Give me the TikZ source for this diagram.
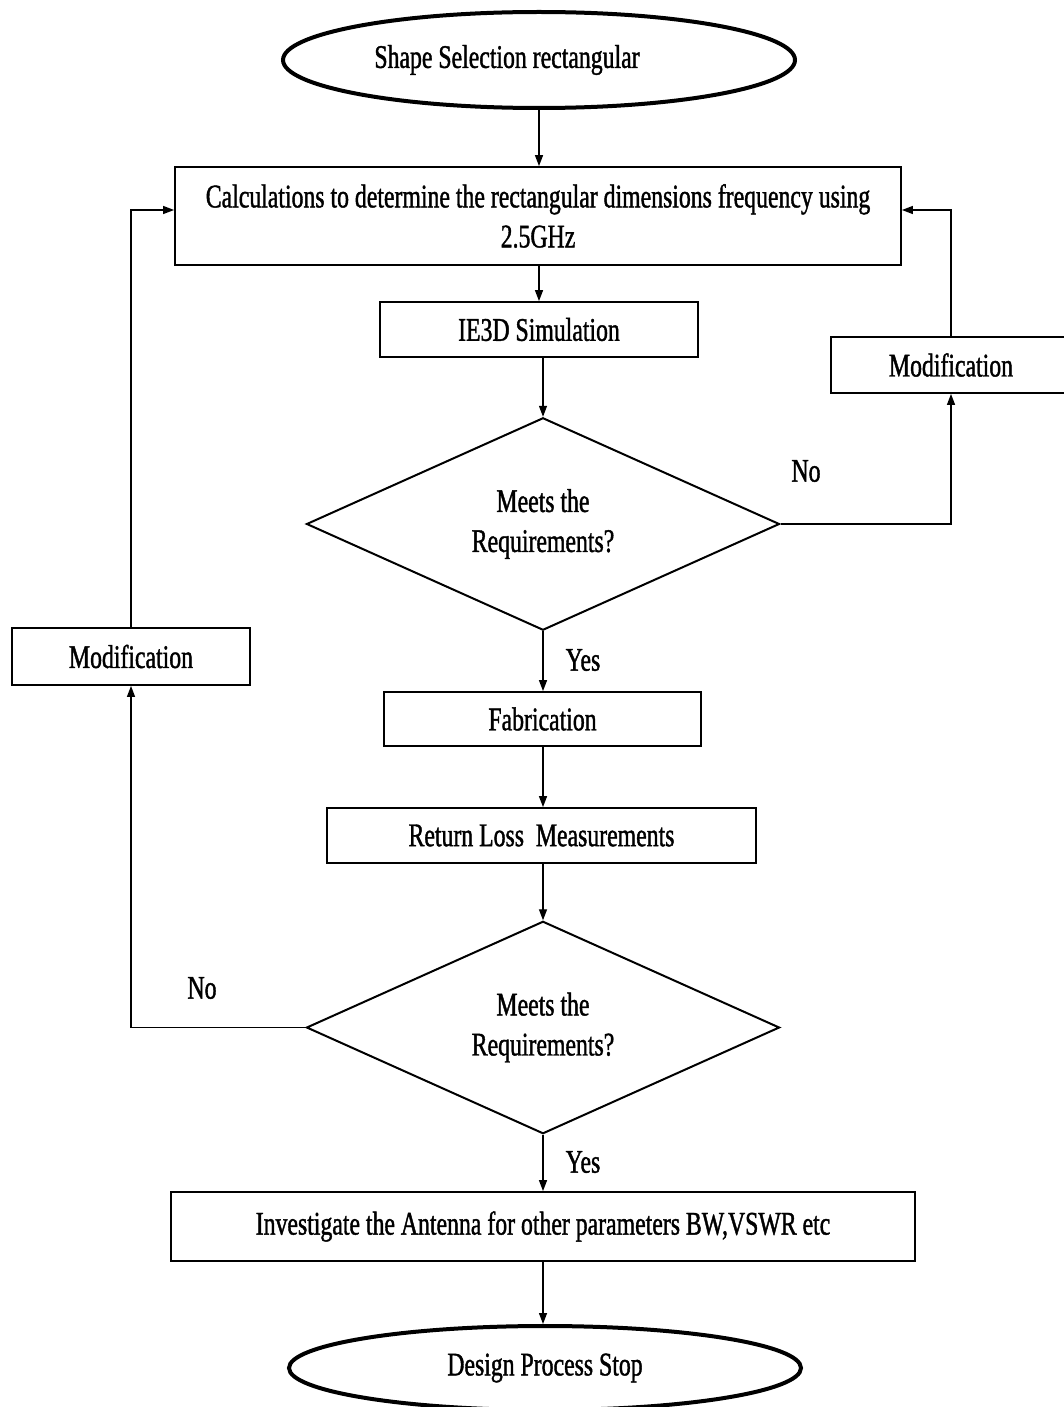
\documentclass[tikz,border=0pt]{standalone}
\usepackage{fontspec}
\setmainfont{Liberation Serif}[FakeStretch=0.72,FakeBold=1.2]
\usetikzlibrary{shapes.geometric,arrows.meta}
\newcommand\fs{\fontsize{33}{40}\selectfont}
\begin{document}
\begin{tikzpicture}[x=1pt,y=-1pt,
  box/.style={draw,line width=1.8pt,rectangle,inner sep=0pt,font=\fs},
  term/.style={draw,line width=4pt,ellipse,inner sep=0pt,font=\fs},
  dec/.style={draw,line width=2pt,diamond,inner sep=0pt,align=center,font=\fs,
    minimum width=473pt,minimum height=212pt},
  lbl/.style={font=\fs,inner sep=0pt},
  arr/.style={line width=1.3pt,-{Triangle[length=11pt,width=8pt]}},
  ln/.style={line width=1.8pt}]
\clip (0,0) rectangle (1064,1407);
\fill[white] (0,0) rectangle (1064,1407);

\node[term,minimum width=512pt,minimum height=96pt] (start) at (539,60) {Shape Selection rectangular\hspace*{64pt}};
\node[box,minimum width=726pt,minimum height=98pt,align=center] (calc) at (538,216)
  {Calculations to determine the rectangular dimensions frequency using\\2.5GHz};
\node[box,minimum width=318pt,minimum height=55pt] (sim) at (539,329.5) {IE3D Simulation};
\node[dec] (d1) at (543,524) {Meets the\\Requirements?};
\node[box,minimum width=240pt,minimum height=56pt] (modr) at (951,365) {Modification};
\node[box,minimum width=317pt,minimum height=54pt] (fab) at (542.5,719) {Fabrication};
\node[box,minimum width=429pt,minimum height=55pt] (rl) at (541.5,835.5) {Return Loss\ \ Measurements};
\node[dec] (d2) at (543,1027.5) {Meets the\\Requirements?};
\node[box,minimum width=238pt,minimum height=57pt] (modl) at (131,656.5) {Modification};
\node[box,minimum width=744pt,minimum height=69pt] (inv) at (543,1226.5)
  {Investigate the Antenna for other parameters BW,VSWR etc};
\node[term,minimum width=512pt,minimum height=84pt] (stop) at (545,1368) {Design Process Stop};

\node[lbl] (no1) at (806,471) {No};
\node[lbl] (yes1) at (583,660) {Yes};
\node[lbl] (no2) at (202,988) {No};
\node[lbl] (yes2) at (583,1162) {Yes};

\draw[arr] (start.south) -- (start.south |- calc.north);
\draw[arr] (sim.north |- calc.south) -- (sim.north);
\draw[arr] (sim.south -| d1.north) -- (d1.north);
\draw[arr] (d1.south) -- (d1.south |- fab.north);
\draw[arr] (d1.south |- fab.south) -- (d1.south |- rl.north);
\draw[arr] (d2.north |- rl.south) -- (d2.north);
\draw[arr] (d2.south) -- (d2.south |- inv.north);
\draw[arr] (inv.south) -- (inv.south |- stop.north);

\draw[arr] (d1.east) -| (modr.south);
\draw[arr] (modr.north) |- ([yshift=6pt]calc.east);
\draw[arr] (d2.west) -| (modl.south);
\draw[arr] (modl.north) |- ([yshift=6pt]calc.west);
\end{tikzpicture}
\end{document}
